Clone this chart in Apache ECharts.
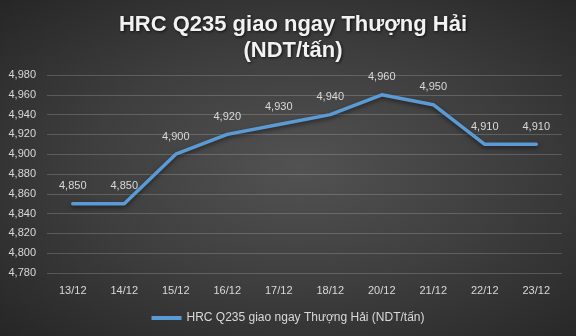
<!DOCTYPE html>
<html>
<head>
<meta charset="utf-8">
<script src="https://cdn.jsdelivr.net/npm/echarts@6/dist/echarts.min.js"></script>
<style>
html,body{margin:0;padding:0;}
#c{width:576px;height:336px;background:radial-gradient(ellipse at 52% 50%, #525252 0%, #3e3e3e 50%, #262626 100%);}
</style>
</head>
<body>
<div id="c"></div>
<script>
const categories = ['13/12','14/12','15/12','16/12','17/12','18/12','20/12','21/12','22/12','23/12'];
const values = [4850,4850,4900,4920,4930,4940,4960,4950,4910,4910];
const seriesName = 'HRC Q235 giao ngay Thượng Hải (NDT/tấn)';
const titleText = 'HRC Q235 giao ngay Thượng Hải\n(NDT/tấn)';

const chart = echarts.init(document.getElementById('c'), null, {renderer:'canvas'});
chart.setOption({
  backgroundColor: 'transparent',
  animation: false,
  title: {
    text: titleText,
    left: 288,
    textAlign: 'center',
    top: 7,
    textStyle: {
      color: '#f2f2f2', fontSize: 22, fontWeight: 'bold',
      fontFamily: 'Liberation Sans, Arial, sans-serif', lineHeight: 26,
      textShadowColor: 'rgba(0,0,0,0.7)', textShadowBlur: 3, textShadowOffsetX: 1, textShadowOffsetY: 1
    }
  },
  grid: {left: 47, right: 14, top: 75, bottom: 63, containLabel: false},
  legend: {
    data: [{name: seriesName, itemStyle: {color: '#5b9bd5', opacity: 1}}],
    bottom: 7,
    left: 'center',
    itemWidth: 30, itemHeight: 4, itemGap: 3,
    icon: 'rect',
    textStyle: {color: '#d9d9d9', fontSize: 12, fontFamily: 'Liberation Sans, Arial, sans-serif'}
  },
  xAxis: {
    type: 'category',
    data: categories,
    boundaryGap: true,
    axisLine: {show: false},
    axisTick: {show: false},
    axisLabel: {color: '#d9d9d9', fontSize: 11, margin: 12, fontFamily: 'Liberation Sans, Arial, sans-serif'}
  },
  yAxis: {
    type: 'value',
    min: 4780, max: 4980, interval: 20,
    axisLine: {show: false},
    axisTick: {show: false},
    splitLine: {lineStyle: {color: 'rgba(255,255,255,0.18)', width: 1}},
    axisLabel: {
      color: '#d9d9d9', fontSize: 11, margin: 11, fontFamily: 'Liberation Sans, Arial, sans-serif',
      formatter: v => v.toLocaleString('en-US')
    }
  },
  series: [{
    name: seriesName,
    type: 'line',
    data: values,
    smooth: false,
    symbol: 'circle',
    symbolSize: 0.01,
    showSymbol: true,
    itemStyle: {color: '#5b9bd5'},
    lineStyle: {color: '#5b9bd5', width: 3.5, join: 'round', cap: 'round', shadowColor: 'rgba(0,0,0,0.5)', shadowBlur: 4, shadowOffsetY: 2},
    label: {
      show: true, position: 'top', distance: 12,
      color: '#d9d9d9', fontSize: 11, fontFamily: 'Liberation Sans, Arial, sans-serif',
      formatter: p => p.value.toLocaleString('en-US')
    }
  }]
});
</script>
</body>
</html>
